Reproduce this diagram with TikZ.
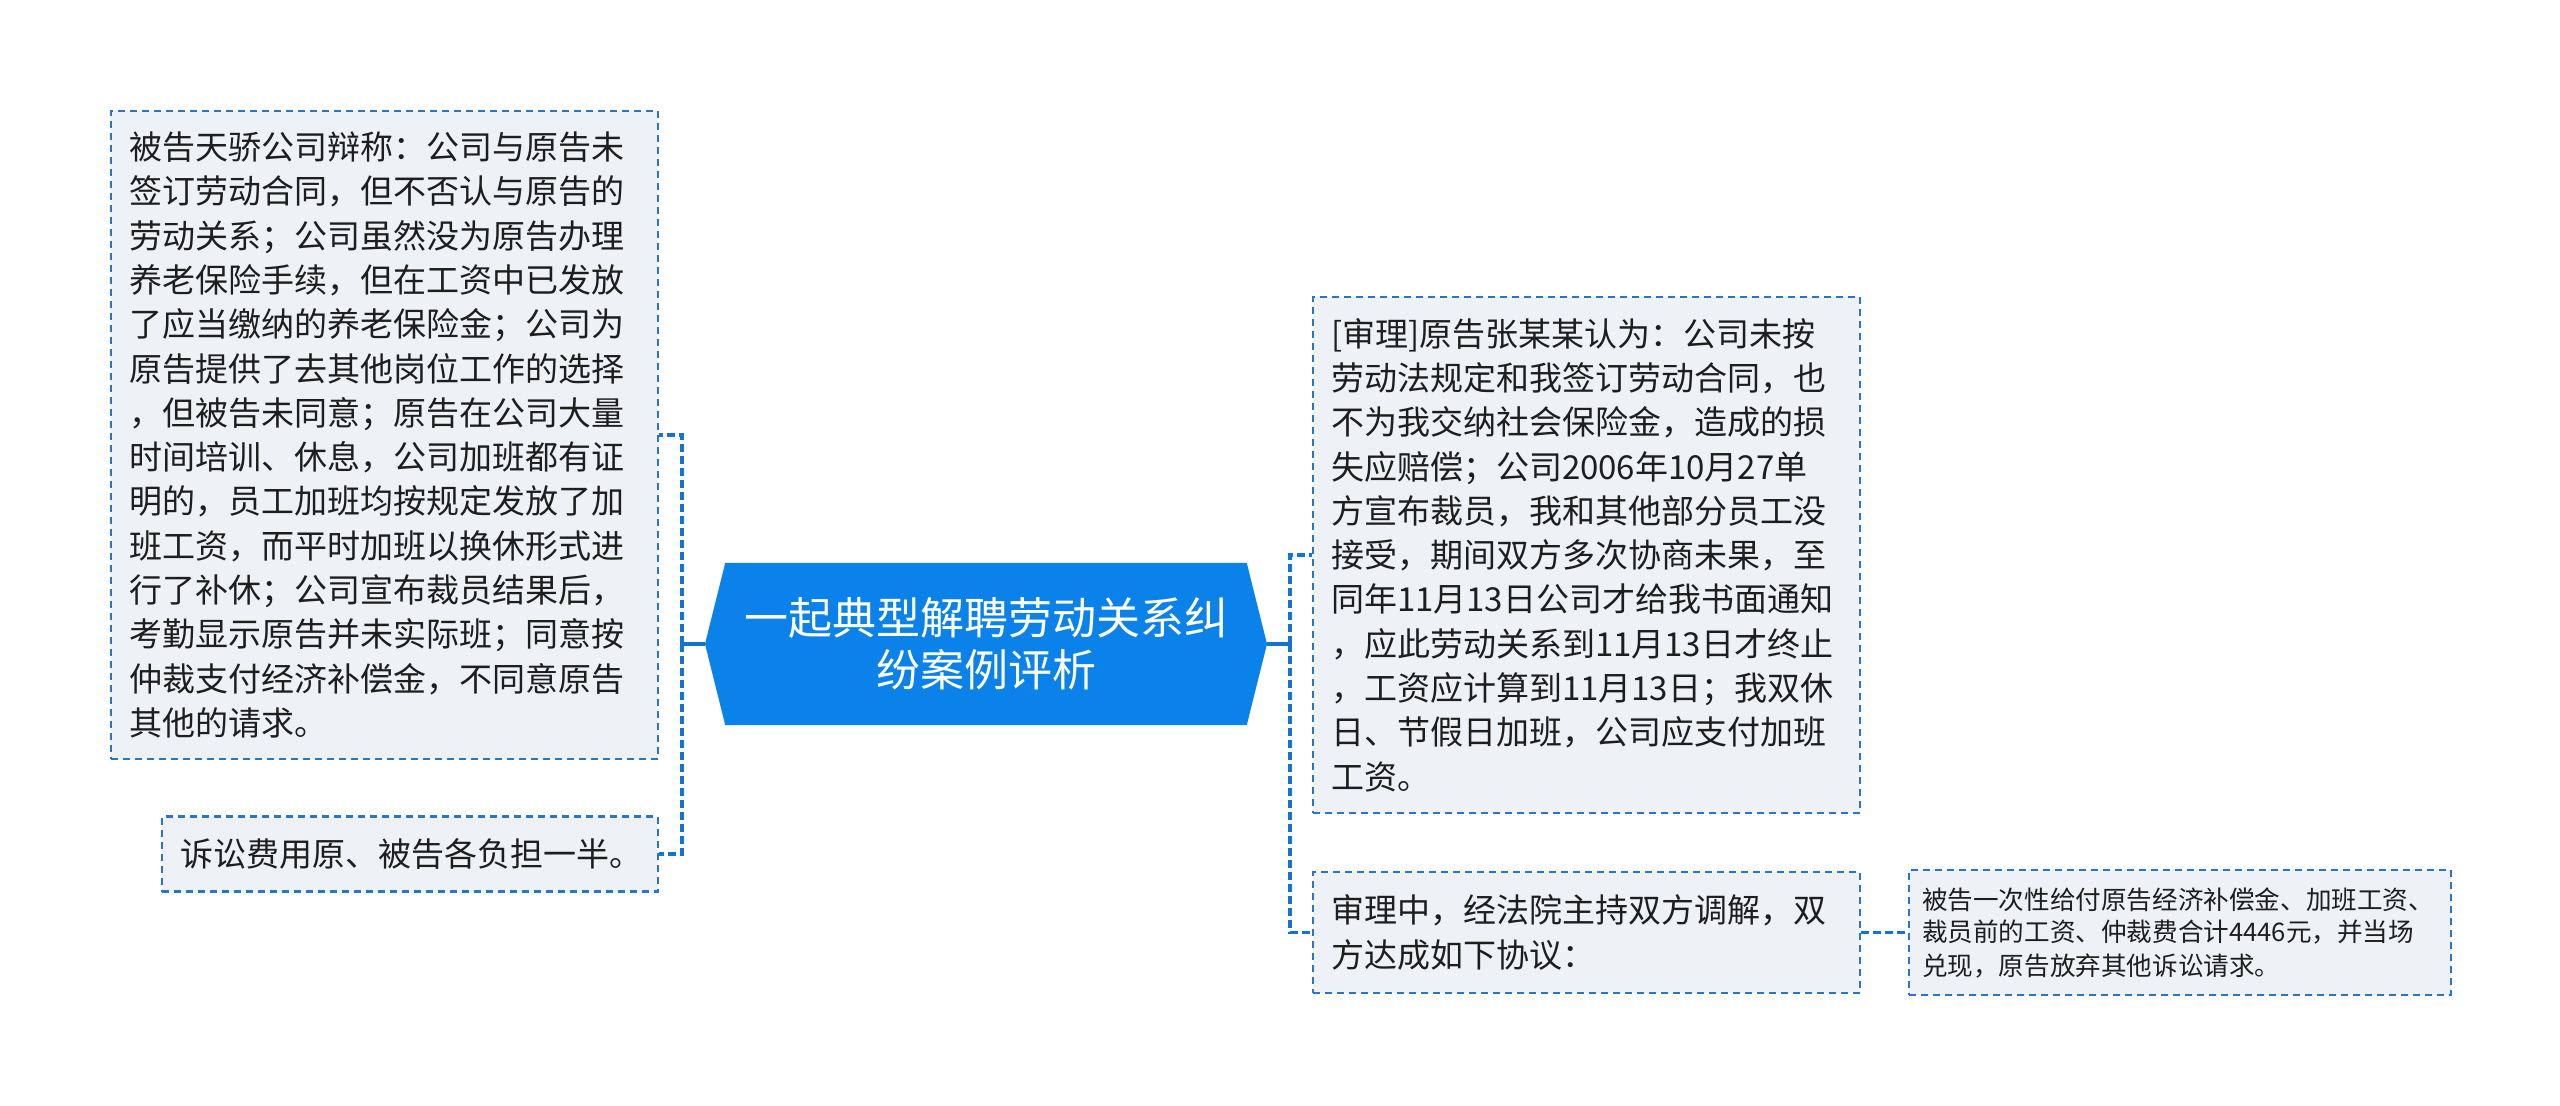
\documentclass[tikz,border=0pt]{standalone}
\usepackage{fontspec}
\setmainfont{Noto Sans CJK SC}
\usepackage{tikz}
\usetikzlibrary{shapes.symbols}
\definecolor{rootblue}{RGB}{10,130,234}
\definecolor{lineblue}{RGB}{20,116,214}
\definecolor{boxline}{RGB}{40,118,196}
\definecolor{boxfill}{RGB}{238,242,246}
\definecolor{ink}{RGB}{30,30,30}
\tikzset{
	topic/.style={draw=boxline, fill=boxfill, line width=1.1pt, dash pattern=on 3.5pt off 2.5pt,
		inner xsep=9pt, inner ysep=0pt, align=left, text=ink,
		font=\fontsize{16.5}{22.15}\selectfont},
	link/.style={draw=lineblue, line width=1.8pt, dash pattern=on 4pt off 2pt},
	stub/.style={draw=lineblue, line width=1.8pt},
}
\begin{document}
\begin{tikzpicture}[x=0.5pt, y=-0.5pt]
		\useasboundingbox (0,0) rectangle (2560,1106);
		\node[signal, signal to=west and east, signal pointer angle=152, fill=rootblue,
			text=white, minimum width=281pt, minimum height=81pt, inner sep=0pt,
			align=center, font=\fontsize{22}{26}\selectfont] (root) at (986,644)
			{一起典型解聘劳动关系纠\\纷案例评析};
		\node[topic, text width=255.5pt, minimum height=324pt] (defense) at (384.5,435)
			{被告天骄公司辩称：公司与原告未\\签订劳动合同，但不否认与原告的\\劳动关系；公司虽然没为原告办理\\养老保险手续，但在工资中已发放\\了应当缴纳的养老保险金；公司为\\原告提供了去其他岗位工作的选择\\，但被告未同意；原告在公司大量\\时间培训、休息，公司加班都有证\\明的，员工加班均按规定发放了加\\班工资，而平时加班以换休形式进\\行了补休；公司宣布裁员结果后，\\考勤显示原告并未实际班；同意按\\仲裁支付经济补偿金，不同意原告\\其他的请求。};
		\node[topic, text width=230pt, minimum height=37.5pt] (costs) at (410,854)
			{诉讼费用原、被告各负担一半。};
		\node[topic, text width=255.5pt, minimum height=258pt] (claim) at (1586.5,555)
			{[审理]原告张某某认为：公司未按\\劳动法规定和我签订劳动合同，也\\不为我交纳社会保险金，造成的损\\失应赔偿；公司2006年10月27单\\方宣布裁员，我和其他部分员工没\\接受，期间双方多次协商未果，至\\同年11月13日公司才给我书面通知\\，应此劳动关系到11月13日才终止\\，工资应计算到11月13日；我双休\\日、节假日加班，公司应支付加班\\工资。};
		\node[topic, text width=255.5pt, minimum height=60.5pt] (mediate) at (1586.5,932.5)
			{审理中，经法院主持双方调解，双\\方达成如下协议：};
		\node[topic, inner xsep=6.5pt, text width=258pt, minimum height=62.5pt,
			font=\fontsize{12.8}{16.5}\selectfont] (terms) at (2180,932.5)
			{被告一次性给付原告经济补偿金、加班工资、\\裁员前的工资、仲裁费合计4446元，并当场\\兑现，原告放弃其他诉讼请求。};
		\coordinate (lbus) at (682,644);
		\coordinate (rbus) at (1290,644);
		\draw[stub] (root.west) -- (lbus);
		\draw[link] (lbus) |- (defense.east);
		\draw[link] (lbus) |- (costs.east);
		\draw[stub] (root.east) -- (rbus);
		\draw[link] (rbus) |- (claim.west);
		\draw[link] (rbus) |- (mediate.west);
		\draw[link] (mediate.east) -- (terms.west);
\end{tikzpicture}
\end{document}
